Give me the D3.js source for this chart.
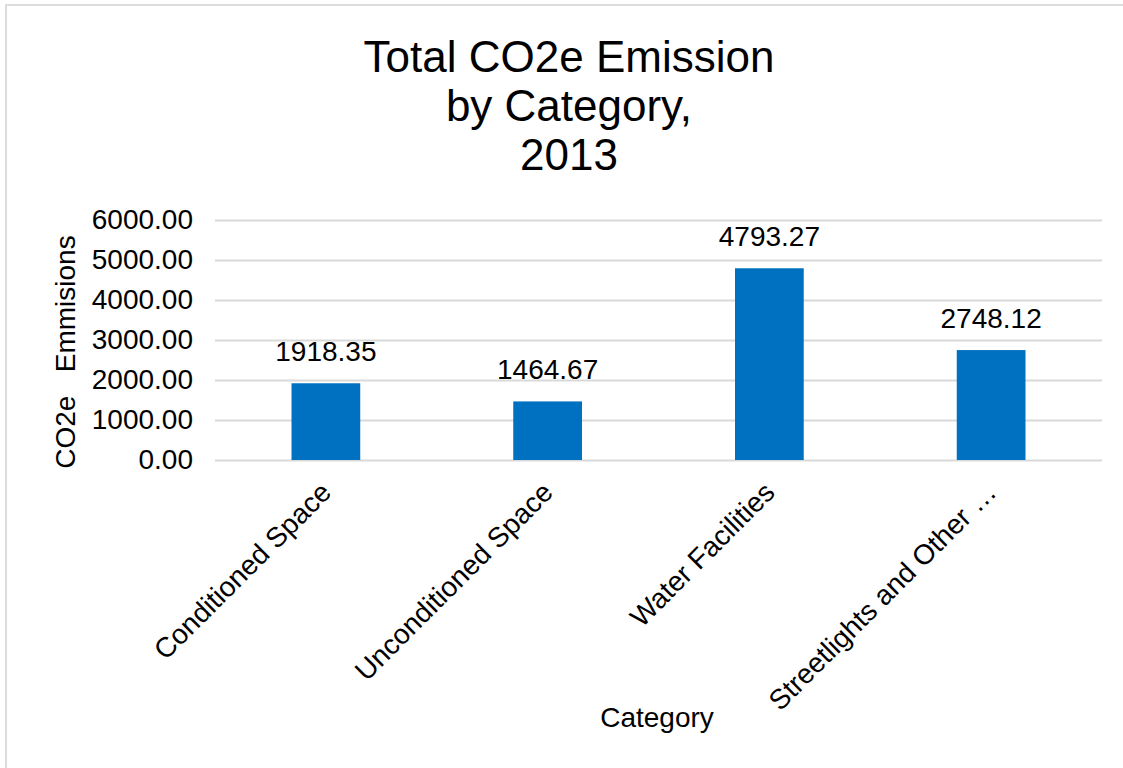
<!DOCTYPE html>
<html>
<head>
<meta charset="utf-8">
<script src="https://cdn.jsdelivr.net/npm/d3@7"></script>
<style>
  html, body { margin: 0; padding: 0; background: #fff; }
  svg { display: block; font-family: "Liberation Sans", Arial, sans-serif; }
</style>
</head>
<body>
<svg id="chart" width="1123" height="768"></svg>
<script>
const categories = ["Conditioned Space", "Unconditioned Space", "Water Facilities", "Streetlights and Other \u2026"];
const emissions = [1918.35, 1464.67, 4793.27, 2748.12];
const yTicks = [0, 1000, 2000, 3000, 4000, 5000, 6000];
const titleLines = ["Total CO2e Emission", "by Category,", "2013"];
const yTitle = "CO2e   Emmisions";
const xTitle = "Category";

const svg = d3.select("#chart");
const W = 1123, H = 768;
const margin = { left: 215, right: 21, top: 220, bottom: 308 };
const plotW = W - margin.left - margin.right;
const plotH = H - margin.top - margin.bottom;

// frame (top and left edges visible)
svg.append("rect")
  .attr("x", 6).attr("y", 5)
  .attr("width", W + 20).attr("height", H + 20)
  .attr("fill", "none").attr("stroke", "#dcdcdc").attr("stroke-width", 2);

const g = svg.append("g").attr("transform", `translate(${margin.left},${margin.top})`);

const x = d3.scaleBand().domain(categories).range([0, plotW]).paddingInner(0.69).paddingOuter(0.345);
const y = d3.scaleLinear().domain([0, 6000]).range([plotH, 0]);

// gridlines
const yAxis = d3.axisLeft(y).tickValues(yTicks).tickSize(-plotW).tickFormat(d => d3.format(".2f")(d)).tickPadding(22);
const ya = g.append("g").call(yAxis);
ya.select(".domain").remove();
ya.selectAll(".tick line").attr("stroke", "#d9d9d9").attr("stroke-width", 2);
ya.selectAll(".tick text")
  .attr("font-size", 28).attr("fill", "#000")
  .attr("font-family", "Liberation Sans, Arial, sans-serif");

// bars
g.selectAll("rect.bar").data(categories).enter().append("rect")
  .attr("class", "bar")
  .attr("x", d => x(d))
  .attr("width", x.bandwidth())
  .attr("y", (d, i) => y(emissions[i]))
  .attr("height", (d, i) => plotH - y(emissions[i]))
  .attr("fill", "#0070c0");

// data labels
g.selectAll("text.lbl").data(categories).enter().append("text")
  .attr("class", "lbl")
  .attr("x", d => x(d) + x.bandwidth() / 2)
  .attr("y", (d, i) => y(emissions[i]) - 22)
  .attr("text-anchor", "middle")
  .attr("font-size", 28).attr("fill", "#000")
  .text((d, i) => d3.format(".2f")(emissions[i]));

// x category labels (rotated)
g.selectAll("text.cat").data(categories).enter().append("text")
  .attr("class", "cat")
  .attr("text-anchor", "end")
  .attr("font-size", 28).attr("fill", "#000")
  .attr("transform", d => `translate(${x(d) + x.bandwidth() / 2 + 7},${plotH + 34}) rotate(-45)`)
  .text(d => d);

// title
const title = svg.append("text")
  .attr("text-anchor", "middle")
  .attr("font-size", 44).attr("fill", "#000");
titleLines.forEach((t, i) => {
  title.append("tspan").attr("x", 569).attr("y", 72 + i * 49).text(t);
});

// y axis title
svg.append("text")
  .attr("transform", `translate(75,352) rotate(-90)`)
  .attr("text-anchor", "middle")
  .attr("font-size", 28).attr("fill", "#000")
  .style("white-space", "pre")
  .text(yTitle);

// x axis title
svg.append("text")
  .attr("x", 657).attr("y", 727)
  .attr("text-anchor", "middle")
  .attr("font-size", 28).attr("fill", "#000")
  .text(xTitle);
</script>
</body>
</html>
